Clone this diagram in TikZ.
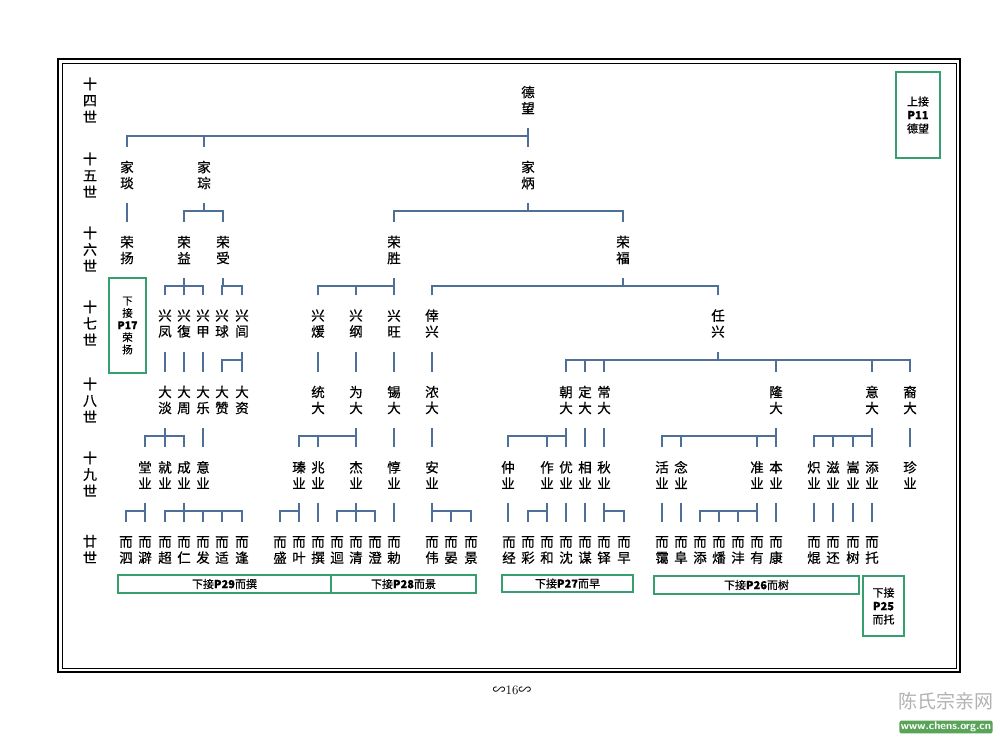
\documentclass[tikz,border=0pt]{standalone}
\usepackage{fontspec}
\newfontfamily\cjk[FakeBold=0.6]{Noto Sans CJK SC}
\newfontfamily\cjkp{Noto Sans CJK SC}
\usetikzlibrary{calc}
\definecolor{lnc}{RGB}{78,112,152}
\definecolor{bxc}{RGB}{55,158,112}
\tikzset{
  nm/.style={font=\cjk\fontsize{13.5}{16}\selectfont, align=center, inner sep=0pt, minimum height=56pt},
  gen/.style={font=\cjk\fontsize{14}{16.5}\selectfont, align=center, inner sep=0pt},
  ln/.style={draw=lnc, line width=1.6pt},
  bxs/.style={draw=bxc, line width=1.4pt, inner sep=0pt, align=center, font=\cjk\fontsize{11}{13.5}\selectfont},
}
\newcommand\kinbus[4]{%
  \draw[ln] (#1.south) -- ($(#1.south)+(0,8)$) coordinate (bus);
  \draw[ln] (#2.north) -- (#2.north |- bus) -- (#3.north |- bus) -- (#3.north);
  \foreach \c in {#4} {\draw[ln] (\c.north) -- (\c.north |- bus);}
}
\newcommand\kinline[2]{\draw[ln] (#1.south) -- (#1.south |- #2.north);}
\begin{document}
\begin{tikzpicture}[x=1pt,y=-1pt]
\useasboundingbox (0,0) rectangle (1000,751);
\fill[white] (0,0) rectangle (1000,751);
% frame
\draw[line width=1.2pt] (58,59) rectangle (960,672);
\draw[line width=0.7pt] (62,63) rectangle (956,668);
% generation labels
\node[gen] (g14) at (90,100) {十\\四\\世};
\node[gen] (g15) at (90,175) {十\\五\\世};
\node[gen] (g16) at (90,249) {十\\六\\世};
\node[gen] (g17) at (90,323) {十\\七\\世};
\node[gen] (g18) at (90,400) {十\\八\\世};
\node[gen] (g19) at (90,474) {十\\九\\世};
\node[gen] (g20) at (90,549) {廿\\世};
% G14
\node[nm] (dw) at (528,100) {德\\望};
% G15
\node[nm] (jy) at (127,175) {家\\琰};
\node[nm] (jc) at (204,175) {家\\琮};
\node[nm] (jb) at (528,175) {家\\炳};
% G16
\node[nm] (ry) at (127,250) {荣\\扬};
\node[nm] (ryi) at (184,250) {荣\\益};
\node[nm] (rs) at (223,250) {荣\\受};
\node[nm] (rsh) at (394,250) {荣\\胜};
\node[nm] (rf) at (623,250) {荣\\福};
% G17
\node[nm] (xf) at (165,323.5) {兴\\凤};
\node[nm] (xfu) at (184,323.5) {兴\\復};
\node[nm] (xj) at (203,323.5) {兴\\甲};
\node[nm] (xq) at (222,323.5) {兴\\球};
\node[nm] (xl) at (242,323.5) {兴\\闾};
\node[nm] (xn) at (318,323.5) {兴\\煖};
\node[nm] (xg) at (356,323.5) {兴\\纲};
\node[nm] (xw) at (394,323.5) {兴\\旺};
\node[nm] (xx) at (432,323.5) {倖\\兴};
\node[nm] (rx) at (718,323.5) {任\\兴};
% G18
\node[nm] (d1) at (165,400) {大\\淡};
\node[nm] (d2) at (184,400) {大\\周};
\node[nm] (d3) at (203,400) {大\\乐};
\node[nm] (d4) at (222,400) {大\\赞};
\node[nm] (d5) at (242,400) {大\\资};
\node[nm] (td) at (318,400) {统\\大};
\node[nm] (wd) at (356,400) {为\\大};
\node[nm] (xd) at (394,400) {锡\\大};
\node[nm] (nd) at (432,400) {浓\\大};
\node[nm] (cd) at (566,400) {朝\\大};
\node[nm] (dd) at (585,400) {定\\大};
\node[nm] (chd) at (604,400) {常\\大};
\node[nm] (ld) at (776,400) {隆\\大};
\node[nm] (yd) at (872,400) {意\\大};
\node[nm] (yid) at (910,400) {裔\\大};
% G19
\node[nm] (y1) at (145,475) {堂\\业};
\node[nm] (y2) at (165,475) {就\\业};
\node[nm] (y3) at (184,475) {成\\业};
\node[nm] (y4) at (203,475) {意\\业};
\node[nm] (zy) at (299,475) {瑧\\业};
\node[nm] (zhy) at (318,475) {兆\\业};
\node[nm] (jey) at (356,475) {杰\\业};
\node[nm] (dy) at (394,475) {惇\\业};
\node[nm] (ay) at (432,475) {安\\业};
\node[nm] (zgy) at (508,475) {仲\\业};
\node[nm] (zuy) at (547,475) {作\\业};
\node[nm] (yy) at (566,475) {优\\业};
\node[nm] (xy) at (585,475) {相\\业};
\node[nm] (qy) at (604,475) {秋\\业};
\node[nm] (hy) at (662,475) {活\\业};
\node[nm] (ny) at (681,475) {念\\业};
\node[nm] (zny) at (757,475) {准\\业};
\node[nm] (by) at (776,475) {本\\业};
\node[nm] (c1) at (814,475) {炽\\业};
\node[nm] (c2) at (833,475) {滋\\业};
\node[nm] (c3) at (853,475) {嵩\\业};
\node[nm] (c4) at (872,475) {添\\业};
\node[nm] (zhey) at (910,475) {珍\\业};
% G20
\node[nm] (e1) at (126,550) {而\\泗};
\node[nm] (e2) at (145,550) {而\\澼};
\node[nm] (e3) at (165,550) {而\\超};
\node[nm] (e4) at (184,550) {而\\仁};
\node[nm] (e5) at (203,550) {而\\发};
\node[nm] (e6) at (222,550) {而\\适};
\node[nm] (e7) at (242,550) {而\\逢};
\node[nm] (e8) at (280,550) {而\\盛};
\node[nm] (e9) at (299,550) {而\\叶};
\node[nm] (e10) at (318,550) {而\\撰};
\node[nm] (e11) at (337,550) {而\\迴};
\node[nm] (e12) at (356,550) {而\\清};
\node[nm] (e13) at (375,550) {而\\澄};
\node[nm] (e14) at (394,550) {而\\勅};
\node[nm] (e15) at (432,550) {而\\伟};
\node[nm] (e16) at (451,550) {而\\晏};
\node[nm] (e17) at (471,550) {而\\景};
\node[nm] (f1) at (509,550) {而\\经};
\node[nm] (f2) at (528,550) {而\\彩};
\node[nm] (f3) at (547,550) {而\\和};
\node[nm] (f4) at (566,550) {而\\沈};
\node[nm] (f5) at (585,550) {而\\谋};
\node[nm] (f6) at (604,550) {而\\铎};
\node[nm] (f7) at (624,550) {而\\早};
\node[nm] (h1g) at (662,550) {而\\霭};
\node[nm] (g2) at (681,550) {而\\阜};
\node[nm] (g3) at (700,550) {而\\添};
\node[nm] (g4) at (719,550) {而\\燔};
\node[nm] (g5) at (738,550) {而\\沣};
\node[nm] (g6) at (757,550) {而\\有};
\node[nm] (g7) at (776,550) {而\\康};
\node[nm] (h1) at (814,550) {而\\焜};
\node[nm] (h2) at (833,550) {而\\还};
\node[nm] (h3) at (853,550) {而\\树};
\node[nm] (h4) at (872,550) {而\\托};
% connectors G14-G15
\kinbus{dw}{jy}{jb}{jy,jc,jb}
% G15-G16
\kinline{jy}{ry}
\kinbus{jc}{ryi}{rs}{ryi,rs}
\kinbus{jb}{rsh}{rf}{rsh,rf}
% G16-G17
\kinbus{ryi}{xf}{xj}{xf,xfu,xj}
\kinbus{rs}{xq}{xl}{xq,xl}
\kinbus{rsh}{xn}{xw}{xn,xg,xw}
\kinbus{rf}{xx}{rx}{xx,rx}
% G17-G18
\kinline{xf}{d1}
\kinline{xfu}{d2}
\kinline{xj}{d3}
\kinbus{xl}{d4}{d5}{d4,d5}
\kinline{xn}{td}
\kinline{xg}{wd}
\kinline{xw}{xd}
\kinline{xx}{nd}
\kinbus{rx}{cd}{yid}{cd,dd,chd,ld,yd,yid}
% G18-G19
\kinbus{d1}{y1}{y3}{y1,y2,y3}
\kinline{d3}{y4}
\kinbus{wd}{zy}{jey}{zy,zhy,jey}
\kinline{xd}{dy}
\kinline{nd}{ay}
\kinbus{cd}{zgy}{yy}{zgy,zuy,yy}
\kinline{dd}{xy}
\kinline{chd}{qy}
\kinbus{ld}{hy}{by}{hy,ny,zny,by}
\kinbus{yd}{c1}{c4}{c1,c2,c3,c4}
\kinline{yid}{zhey}
% G19-G20
\kinbus{y1}{e1}{e2}{e1,e2}
\kinbus{y3}{e3}{e7}{e3,e4,e5,e6,e7}
\kinbus{zy}{e8}{e9}{e8,e9}
\kinline{zhy}{e10}
\kinbus{jey}{e11}{e13}{e11,e12,e13}
\kinline{dy}{e14}
\kinbus{ay}{e15}{e17}{e15,e16,e17}
\kinline{zgy}{f1}
\kinbus{zuy}{f2}{f3}{f2,f3}
\kinline{yy}{f4}
\kinline{xy}{f5}
\kinbus{qy}{f6}{f7}{f6,f7}
\kinline{hy}{h1g}
\kinline{ny}{g2}
\kinbus{zny}{g3}{g6}{g3,g4,g5,g6}
\kinline{by}{g7}
\kinline{c1}{h1}
\kinline{c2}{h2}
\kinline{c3}{h3}
\kinline{c4}{h4}
% link boxes
\node[bxs, minimum width=44pt, minimum height=86pt] (b11) at (918,115) {上接\\\textbf{P11}\\德望};
\node[bxs, minimum width=37pt, minimum height=95pt, font=\cjk\fontsize{10.5}{12.2}\selectfont] (b17) at (127.5,325.5) {下\\接\\\textbf{P17}\\荣\\扬};
\node[bxs, minimum width=213pt, minimum height=18pt] (b29) at (224.5,584) {下接\textbf{P29}而撰};
\node[bxs, minimum width=145pt, minimum height=18pt] (b28) at (403.5,584) {下接\textbf{P28}而景};
\node[bxs, minimum width=131pt, minimum height=17pt] (b27) at (567.5,583.5) {下接\textbf{P27}而早};
\node[bxs, minimum width=205pt, minimum height=18pt] (b26) at (756.5,585) {下接\textbf{P26}而树};
\node[bxs, minimum width=41pt, minimum height=60pt] (b25) at (883.5,606) {下接\\\textbf{P25}\\而托};
% page number
\node[font=\fontsize{13}{15}\selectfont, inner sep=0pt] (pg) at (512,690) {{\cjkp ∽}16{\cjkp ∽}};
% watermark
\node[font=\cjkp\fontsize{19}{21}\selectfont, text=black!30, inner sep=0pt] (wm) at (946,701) {陈氏宗亲网};
\node[font=\sffamily\bfseries\fontsize{11}{12}\selectfont, text=white, fill=green!45!black!65, rounded corners=2pt, inner xsep=1.5pt, inner ysep=1.5pt] (url) at (946,727) {www.chens.org.cn};
\end{tikzpicture}
\end{document}
